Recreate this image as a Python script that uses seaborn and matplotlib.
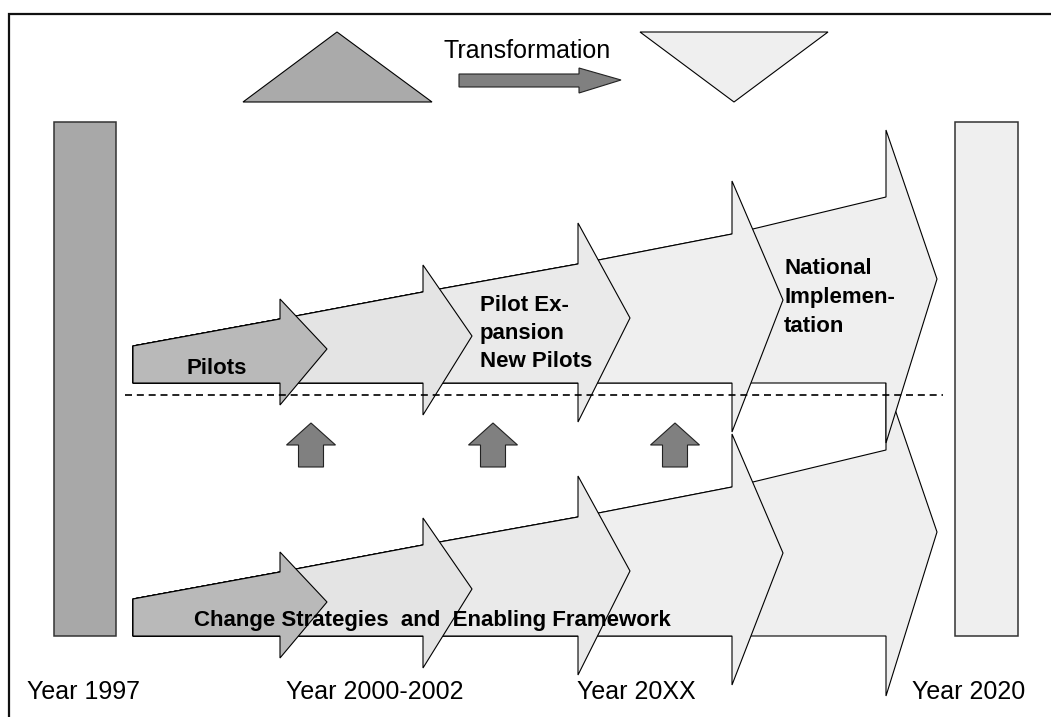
import seaborn as sns
import matplotlib.pyplot as plt

sns.set_theme(style="white")
plt.rcParams['font.family'] = ['Liberation Sans', 'DejaVu Sans']

# stage arrows of one lane (pixel units, y grows downwards)
tail_x = 133
tail_top = 346
shaft_bottom = 383
head_x = [280, 423, 578, 732, 886]
shaft_top = [319, 292, 264, 234, 197]
head_top = [299, 265, 223, 181, 130]
head_bot = [405, 415, 422, 432, 443]
tip_x = [327, 472, 630, 783, 937]
tip_y = [349, 336, 318, 300, 279]
arrow_colors = ["#b9b9b9", "#e4e4e4", "#eaeaea", "#efefef", "#efefef"]
lane_offset = [253, 0]   # lower lane drawn first, upper lane on top

# small "feed" arrows between the lanes
up_x = [311, 493, 675]

year_labels = ["Year 1997", "Year 2000-2002", "Year 20XX", "Year 2020"]
year_x = [27, 286, 577, 912]

fig = plt.figure(figsize=(10.51, 7.17), dpi=100)
ax = fig.add_axes([0, 0, 1, 1])
ax.set_xlim(0, 1051)
ax.set_ylim(717, 0)
ax.axis('off')

# frame (only top and left visible)
ax.plot([9, 9, 1051], [717, 14, 14], color='#111111', lw=1.6, solid_joinstyle='miter')

# side bars
ax.add_patch(plt.Rectangle((54, 122), 62, 514, facecolor='#a8a8a8', edgecolor='#333333', lw=1.1))
ax.add_patch(plt.Rectangle((955, 122), 63, 514, facecolor='#efefef', edgecolor='#333333', lw=1.1))

# top triangles + transformation arrow
ax.fill([243, 337, 432], [102, 32, 102], facecolor='#aaaaaa', edgecolor='black', lw=0.8)
ax.fill([640, 828, 734], [32, 32, 102], facecolor='#efefef', edgecolor='black', lw=0.8)
ax.fill([459, 579, 579, 621, 579, 579, 459], [74, 74, 68, 80, 93, 87, 87],
        facecolor='#808080', edgecolor='#222222', lw=0.8)
ax.text(443, 58, "Transformation", fontsize=18, va='baseline', ha='left', color='black')

# the two lanes of growing arrows
for off in lane_offset:
    for i in range(len(head_x) - 1, -1, -1):
        xs = [tail_x, tail_x] + head_x[:i + 1] + [head_x[i], tip_x[i], head_x[i], head_x[i]]
        ys = [shaft_bottom, tail_top] + shaft_top[:i + 1] + [head_top[i], tip_y[i], head_bot[i], shaft_bottom]
        ys = [y + off for y in ys]
        ax.fill(xs, ys, facecolor=arrow_colors[i], edgecolor='black', lw=0.8, joinstyle='miter')

# dashed separator
sns.lineplot(x=[125, 943], y=[395, 395], ax=ax, color='black', lw=1.2, dashes=False)
ax.lines[-1].set_dashes((4.2, 2.9))

for cx in up_x:
    ax.fill([cx - 12.5, cx - 12.5, cx - 24.5, cx, cx + 24.5, cx + 12.5, cx + 12.5],
            [467, 445, 445, 423, 445, 445, 467],
            facecolor='#808080', edgecolor='#222222', lw=0.8)

# labels inside the arrows
bold = dict(fontsize=16, fontweight='bold', va='baseline', ha='left', color='black')
ax.text(187, 374, "Pilots", **bold)
for txt, y in zip(["Pilot Ex-", "pansion", "New Pilots"], [311, 339, 367]):
    ax.text(480, y, txt, **bold)
for txt, y in zip(["National", "Implemen-", "tation"], [274, 303, 332]):
    ax.text(784, y, txt, **bold)
ax.text(194, 626, "Change Strategies  and  Enabling Framework", **bold)

for lab, x in zip(year_labels, year_x):
    ax.text(x, 699, lab, fontsize=18, va='baseline', ha='left', color='black')

fig.savefig('out.png', dpi=100)
